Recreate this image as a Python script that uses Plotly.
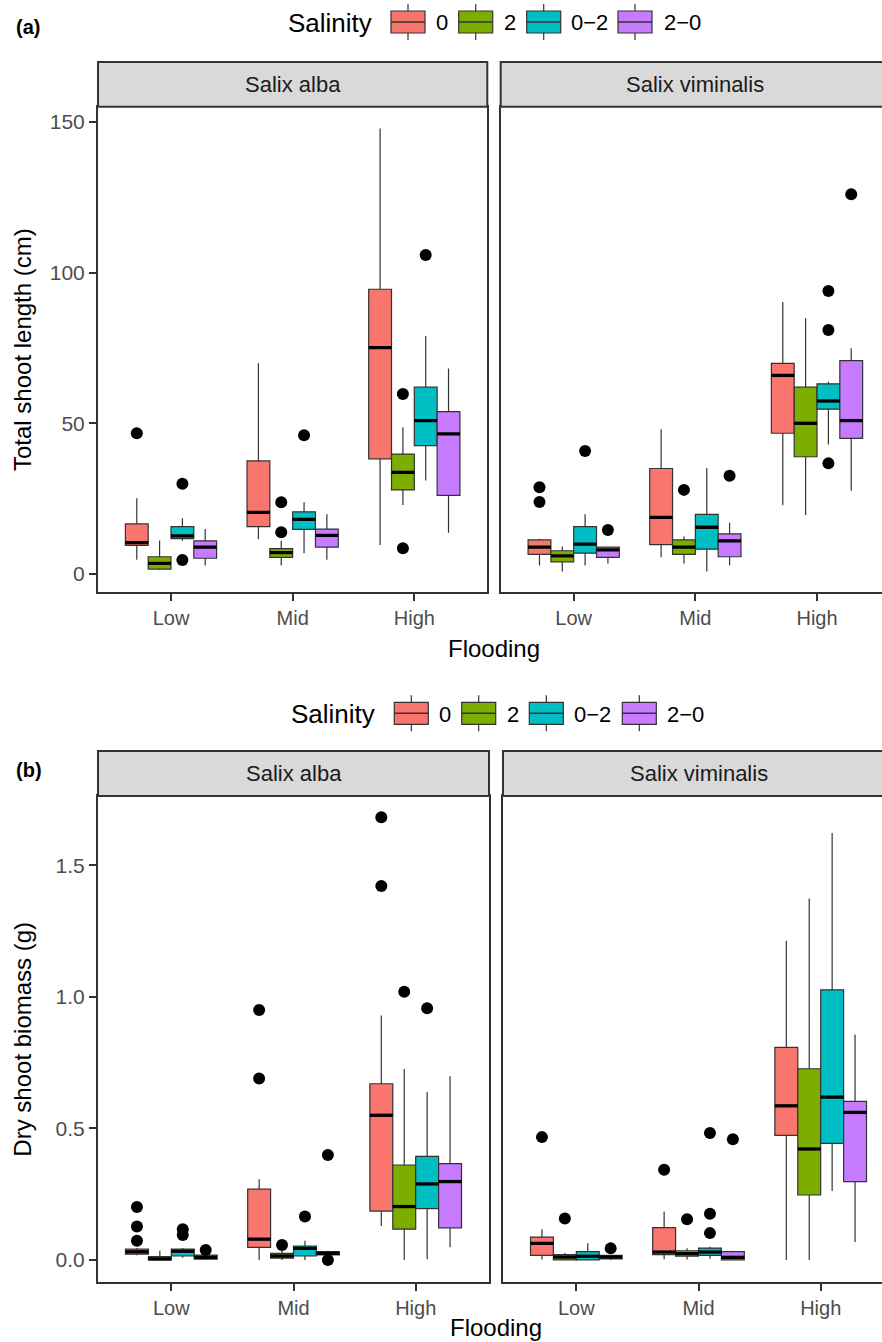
import plotly.graph_objects as go

W, H = 882, 1342

# ---------------- categories ----------------
flooding = ["Low", "Mid", "High"]
salinity = ["0", "2", "0\u22122", "2\u22120"]
sal_colors = ["#F8766D", "#7CAE00", "#00BFC4", "#C77CFF"]
species = ["Salix alba", "Salix viminalis"]

# ---------------- (a) Total shoot length (cm) ----------------
# rows: salinity 0, 2, 0-2, 2-0 ; columns: Low, Mid, High
len_alba_lo = [[4.7, 11.5, 9.6], [1.3, 2.8, 22.9], [11.0, 6.9, 31.0], [2.8, 4.7, 13.7]]
len_alba_q1 = [[9.5, 15.7, 38.2], [1.6, 5.5, 27.9], [11.7, 14.8, 42.6], [5.2, 8.9, 26.1]]
len_alba_med = [[10.4, 20.4, 75.1], [3.5, 7.1, 33.7], [12.6, 18.1, 50.9], [8.9, 12.8, 46.5]]
len_alba_q3 = [[16.6, 37.5, 94.5], [5.7, 8.4, 39.8], [15.7, 20.6, 62.0], [11.0, 14.9, 53.9]]
len_alba_hi = [[25.1, 69.9, 147.9], [11.1, 11.0, 48.7], [18.5, 23.8, 79.0], [14.9, 19.8, 68.2]]
# outliers: [flooding index, salinity index, value]
len_alba_out = [[0, 0, 46.7], [0, 2, 29.9], [0, 2, 4.6], [1, 1, 23.8], [1, 1, 13.8],
                [1, 2, 46.0], [2, 1, 59.7], [2, 1, 8.5], [2, 2, 105.9]]

len_vim_lo = [[2.8, 5.5, 22.8], [0.8, 3.5, 19.6], [2.8, 0.8, 43.0], [3.5, 2.8, 27.6]]
len_vim_q1 = [[6.5, 9.7, 46.7], [4.0, 6.5, 38.9], [6.9, 8.2, 54.7], [5.5, 5.7, 45.0]]
len_vim_med = [[8.9, 18.8, 65.9], [6.0, 8.9, 50.0], [9.9, 15.5, 57.4], [8.0, 11.0, 50.9]]
len_vim_q3 = [[11.3, 35.0, 69.9], [7.7, 11.3, 62.0], [15.7, 19.8, 63.1], [8.9, 13.3, 70.8]]
len_vim_hi = [[11.7, 48.0, 90.3], [9.1, 12.4, 84.9], [19.8, 35.2, 63.8], [9.0, 17.0, 74.9]]
len_vim_out = [[0, 0, 28.8], [0, 0, 23.9], [0, 2, 40.8], [0, 3, 14.6], [1, 1, 27.9],
               [1, 3, 32.6], [2, 2, 93.9], [2, 2, 81.0], [2, 2, 36.7], [2, 3, 126.0]]

# ---------------- (b) Dry shoot biomass (g) ----------------
bio_alba_lo = [[0.018, 0.0, 0.129], [0.0, 0.0, 0.0], [0.008, 0.0, 0.003], [0.0, 0.019, 0.048]]
bio_alba_q1 = [[0.022, 0.048, 0.186], [0.0, 0.007, 0.117], [0.015, 0.015, 0.195], [0.003, 0.019, 0.122]]
bio_alba_med = [[0.031, 0.079, 0.550], [0.004, 0.015, 0.203], [0.033, 0.044, 0.289], [0.010, 0.025, 0.298]]
bio_alba_q3 = [[0.041, 0.269, 0.670], [0.013, 0.025, 0.361], [0.041, 0.053, 0.394], [0.018, 0.032, 0.366]]
bio_alba_hi = [[0.045, 0.307, 0.929], [0.035, 0.035, 0.726], [0.045, 0.073, 0.639], [0.030, 0.035, 0.698]]
bio_alba_out = [[0, 0, 0.2015], [0, 0, 0.127], [0, 0, 0.073], [0, 2, 0.117], [0, 2, 0.095],
                [0, 3, 0.038], [1, 0, 0.95], [1, 0, 0.69], [1, 1, 0.057], [1, 2, 0.165],
                [1, 3, 0.399], [1, 3, 0.0], [2, 0, 1.683], [2, 0, 1.422], [2, 1, 1.020], [2, 2, 0.957]]

bio_vim_lo = [[0.002, 0.003, 0.0], [0.0, 0.002, 0.0], [0.0, 0.005, 0.262], [0.0, 0.0, 0.068]]
bio_vim_q1 = [[0.0175, 0.0205, 0.474], [0.0, 0.0144, 0.247], [0.0, 0.0175, 0.443], [0.0035, 0.0, 0.298]]
bio_vim_med = [[0.063, 0.030, 0.586], [0.011, 0.024, 0.422], [0.014, 0.030, 0.619], [0.011, 0.010, 0.561]]
bio_vim_q3 = [[0.087, 0.123, 0.808], [0.020, 0.035, 0.727], [0.032, 0.045, 1.027], [0.0175, 0.032, 0.603]]
bio_vim_hi = [[0.117, 0.184, 1.214], [0.026, 0.044, 1.374], [0.063, 0.050, 1.623], [0.020, 0.035, 0.857]]
bio_vim_out = [[0, 0, 0.467], [0, 1, 0.158], [0, 3, 0.044], [1, 0, 0.343], [1, 1, 0.155],
               [1, 2, 0.483], [1, 2, 0.176], [1, 2, 0.102], [1, 3, 0.459]]

len_ticks = [0, 50, 100, 150]
bio_ticks = [0, 0.5, 1.0, 1.5]
bio_ticktext = ["0.0", "0.5", "1.0", "1.5"]

# ---------------- styling ----------------
FONT = "Liberation Sans, Arial, sans-serif"
DARK = "#333333"
BOXW = 0.75 / 4
OFFS = [-0.375 + BOXW * (i + 0.5) for i in range(4)]


def px(x):
    return x / W


def py(y):
    return 1 - y / H


fig = go.Figure()


def add_facet(xa, ya, lo, q1, med, q3, hi, out):
    for s in range(4):
        xs = [f + 1 + OFFS[s] for f in range(3)]
        fig.add_trace(go.Box(
            x=xs, q1=q1[s], median=med[s], q3=q3[s], lowerfence=lo[s], upperfence=hi[s],
            width=BOXW, fillcolor=sal_colors[s], line=dict(color=DARK, width=1.2),
            whiskerwidth=0, boxpoints=False, xaxis=xa, yaxis=ya, showlegend=False,
            hoverinfo="skip", name=salinity[s]))
    # thick median bars
    mx, my = [], []
    for s in range(4):
        for f in range(3):
            c = f + 1 + OFFS[s]
            mx += [c - BOXW / 2, c + BOXW / 2, None]
            my += [med[s][f], med[s][f], None]
    fig.add_trace(go.Scatter(x=mx, y=my, mode="lines", line=dict(color="#000000", width=3.3),
                             xaxis=xa, yaxis=ya, showlegend=False, hoverinfo="skip"))
    ox = [o[0] + 1 + OFFS[o[1]] for o in out]
    oy = [o[2] for o in out]
    fig.add_trace(go.Scatter(x=ox, y=oy, mode="markers", marker=dict(color="#000000", size=12),
                             xaxis=xa, yaxis=ya, showlegend=False, hoverinfo="skip"))


add_facet("x", "y", len_alba_lo, len_alba_q1, len_alba_med, len_alba_q3, len_alba_hi, len_alba_out)
add_facet("x2", "y2", len_vim_lo, len_vim_q1, len_vim_med, len_vim_q3, len_vim_hi, len_vim_out)
add_facet("x3", "y3", bio_alba_lo, bio_alba_q1, bio_alba_med, bio_alba_q3, bio_alba_hi, bio_alba_out)
add_facet("x4", "y4", bio_vim_lo, bio_vim_q1, bio_vim_med, bio_vim_q3, bio_vim_hi, bio_vim_out)

# panel geometry (pixels)
A_TOP, A_BOT = 106.7, 592.3
B_TOP, B_BOT = 796.0, 1282.3
A_L = (98.0, 487.3)
A_R0 = 500.7
B_L = (98.0, 489.0)
B_R0 = 503.0
A_STRIP = (62.0, 106.7)
B_STRIP = (751.0, 796.0)

common_x = dict(tickvals=[1, 2, 3], ticktext=flooding, showgrid=False, zeroline=False,
                showline=True, mirror=True, linecolor=DARK, linewidth=2,
                ticks="outside", ticklen=7, tickwidth=2, tickcolor=DARK,
                tickfont=dict(family=FONT, size=20, color="#4D4D4D"), fixedrange=True)
common_y = dict(showgrid=False, zeroline=False, showline=True, linecolor=DARK, linewidth=2,
                fixedrange=True)

spA = (A_L[1] - A_L[0]) / 3.2
spB = (B_L[1] - B_L[0]) / 3.2

fig.update_layout(
    xaxis=dict(domain=[px(A_L[0]), px(A_L[1])], range=[0.4, 3.6], anchor="y", **common_x),
    xaxis2=dict(domain=[px(A_R0), 1.0], range=[0.4, 0.4 + (W - A_R0) / spA], anchor="y2", **common_x),
    xaxis3=dict(domain=[px(B_L[0]), px(B_L[1])], range=[0.4, 3.6], anchor="y3", **common_x),
    xaxis4=dict(domain=[px(B_R0), 1.0], range=[0.4, 0.4 + (W - B_R0) / spB], anchor="y4", **common_x),
    yaxis=dict(domain=[py(A_BOT), py(A_TOP)], range=[-6.1, 155.1], anchor="x", mirror=True,
               tickvals=len_ticks, ticks="outside", ticklen=7, tickwidth=2, tickcolor=DARK,
               tickfont=dict(family=FONT, size=21, color="#4D4D4D"), **common_y),
    yaxis2=dict(domain=[py(A_BOT), py(A_TOP)], range=[-6.1, 155.1], anchor="x2", mirror=False,
                showticklabels=False, ticks="", **common_y),
    yaxis3=dict(domain=[py(B_BOT), py(B_TOP)], range=[-0.085, 1.764], anchor="x3", mirror=True,
                tickvals=bio_ticks, ticktext=bio_ticktext, ticks="outside", ticklen=7, tickwidth=2,
                tickcolor=DARK, tickfont=dict(family=FONT, size=21, color="#4D4D4D"), **common_y),
    yaxis4=dict(domain=[py(B_BOT), py(B_TOP)], range=[-0.085, 1.764], anchor="x4", mirror=False,
                showticklabels=False, ticks="", **common_y),
    boxmode="overlay",
    width=W, height=H, margin=dict(l=0, r=0, t=0, b=0),
    paper_bgcolor="white", plot_bgcolor="white",
    font=dict(family=FONT, color="#000000"),
    showlegend=False,
)

# ---- strips ----
def strip(x0, x1, y0, y1, label):
    fig.add_shape(type="rect", xref="paper", yref="paper", x0=px(x0), x1=px(x1), y0=py(y1), y1=py(y0),
                  fillcolor="#D9D9D9", line=dict(color=DARK, width=2), layer="above")
    fig.add_annotation(text=label, xref="paper", yref="paper", x=px((x0 + x1) / 2), y=py((y0 + y1) / 2),
                       xanchor="center", yanchor="middle", showarrow=False,
                       font=dict(family=FONT, size=22, color="#1A1A1A"))


strip(A_L[0], A_L[1], A_STRIP[0], A_STRIP[1], species[0])
strip(A_R0, A_R0 + 3.2 * spA, A_STRIP[0], A_STRIP[1], species[1])
strip(B_L[0], B_L[1], B_STRIP[0], B_STRIP[1], species[0])
strip(B_R0, B_R0 + 3.2 * spB, B_STRIP[0], B_STRIP[1], species[1])


def text(t, x, y, size, color="#000000", angle=0, xanchor="center", bold=False):
    fig.add_annotation(text=("<b>%s</b>" % t) if bold else t, xref="paper", yref="paper",
                       x=px(x), y=py(y), xanchor=xanchor, yanchor="middle", showarrow=False,
                       textangle=angle, font=dict(family=FONT, size=size, color=color))


# panel letters
text("(a)", 27.5, 27.0, 20, bold=True)
text("(b)", 28.5, 770.0, 20, bold=True)

# axis titles
text("Total shoot length (cm)", 22.5, (A_TOP + A_BOT) / 2, 24, angle=-90)
text("Dry shoot biomass (g)", 22.5, (B_TOP + B_BOT) / 2, 24, angle=-90)
text("Flooding", (A_L[0] + A_R0 + 3.2 * spA) / 2, 648.0, 24)
text("Flooding", (B_L[0] + B_R0 + 3.2 * spB) / 2, 1327.0, 24)


# ---- legends (drawn as ggplot-style keys) ----
def legend(cy, title_left, key_left, label_left):
    text("Salinity", title_left, cy + 1, 26, xanchor="left")
    for i in range(4):
        x0 = key_left[i]
        x1 = x0 + 34
        xm = (x0 + x1) / 2
        ln = dict(color=DARK, width=1.2)
        fig.add_shape(type="line", xref="paper", yref="paper", x0=px(xm), x1=px(xm),
                      y0=py(cy - 18), y1=py(cy + 18), line=ln)
        fig.add_shape(type="rect", xref="paper", yref="paper", x0=px(x0), x1=px(x1),
                      y0=py(cy + 11), y1=py(cy - 11), fillcolor=sal_colors[i], line=ln)
        fig.add_shape(type="line", xref="paper", yref="paper", x0=px(x0), x1=px(x1),
                      y0=py(cy), y1=py(cy), line=dict(color=DARK, width=1.6))
        text(salinity[i], label_left[i], cy + 1, 22, xanchor="left")


legend(22.0, 286.0, [391.0, 458.7, 526.7, 618.0], [434.0, 502.0, 569.0, 662.0])
legend(713.3, 289.3, [394.3, 461.7, 529.3, 622.3], [437.0, 504.7, 572.0, 664.7])

fig.write_html("out.html", config={"displayModeBar": False},
               post_script="document.body.style.margin='0px';document.body.style.overflow='hidden';")
